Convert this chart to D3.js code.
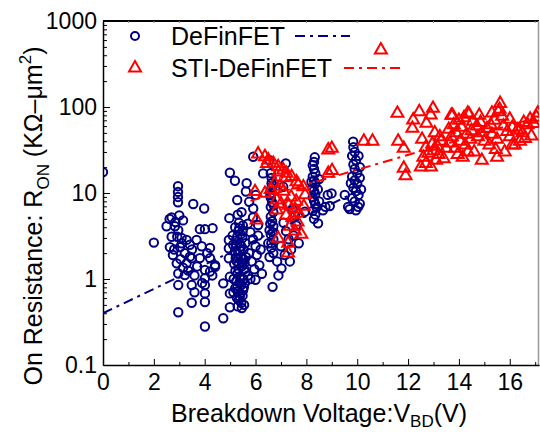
<!DOCTYPE html>
<html lang="en">
<head>
<meta charset="UTF-8">
<script src="https://d3js.org/d3.v7.min.js"></script>
<title>On Resistance vs Breakdown Voltage</title>
<style>
  body { margin: 0; background: #fff; }
  svg text { font-family: "Liberation Sans", Arial, sans-serif; fill: #000; }
</style>
</head>
<body>
<script>
  // [V_BD (V), R_ON (KOhm-um^2)]
  const deFinFET = [
    [0, 17.5], [2.0, 2.65],
    [2.95, 12.0], [2.95, 10.3], [2.95, 9.0], [2.95, 7.8],
    [2.70, 5.2], [2.62, 5.0], [2.50, 4.1], [2.83, 4.1], [2.96, 3.7], [2.70, 3.1], [2.92, 3.1],
    [3.09, 3.0], [2.63, 2.35], [3.03, 2.35], [3.29, 2.85], [3.42, 2.5], [3.22, 2.0], [2.90, 1.52],
    [3.29, 1.52], [3.42, 1.82], [2.96, 1.16], [3.22, 1.11], [3.49, 0.85], [2.96, 0.85], [2.96, 0.41],
    [3.49, 0.53], [3.55, 7.45], [3.98, 6.6], [3.81, 3.8], [4.01, 3.8], [4.31, 3.9], [3.68, 2.85],
    [3.88, 2.4], [4.21, 2.3], [3.81, 1.75], [4.21, 1.75], [4.41, 1.45], [4.01, 1.27], [4.01, 1.02],
    [4.01, 0.85], [4.01, 0.68], [4.01, 0.54], [4.01, 0.28], [4.41, 1.39], [4.21, 1.22], [3.49, 1.74],
    [3.1, 2.6], [2.8, 2.2], [3.15, 1.35], [2.75, 1.9], [3.35, 1.25], [3.6, 1.1], [3.5, 2.2],
    [3.05, 1.7], [3.7, 1.4], [4.1, 2.0], [4.3, 1.1], [3.9, 0.9], [3.6, 0.7], [2.85, 4.6],
    [3.0, 5.5], [3.15, 4.8],
    [4.99, 17.2], [5.19, 13.9], [5.28, 8.3], [4.97, 5.1], [5.62, 10.4], [5.75, 7.9], [4.73, 0.89],
    [4.73, 0.35], [4.95, 2.84], [4.95, 2.28], [4.95, 1.74], [4.99, 1.06], [4.99, 0.68], [4.99, 0.47],
    [5.2, 4.0], [5.32, 3.6], [5.41, 3.3], [5.48, 3.0], [5.24, 2.8], [5.37, 2.6], [5.44, 2.4],
    [5.53, 2.2], [5.19, 2.1], [5.31, 1.95], [5.42, 1.8], [5.5, 1.7], [5.26, 1.6], [5.34, 1.5],
    [5.46, 1.4], [5.56, 1.3], [5.21, 1.25], [5.29, 1.15], [5.39, 1.08], [5.52, 1.0], [5.25, 0.95],
    [5.36, 0.9], [5.43, 0.85], [5.54, 0.8], [5.2, 0.78], [5.31, 0.72], [5.4, 0.68], [5.49, 0.64],
    [5.27, 0.6], [5.35, 0.57], [5.44, 0.53], [5.55, 0.5], [5.3, 0.48], [5.46, 0.46], [5.14, 1.0],
    [5.16, 1.5], [5.13, 0.7], [5.6, 2.6], [5.62, 1.8], [5.6, 1.2], [5.58, 0.9], [5.1, 3.2],
    [5.12, 2.5], [5.35, 4.5], [5.5, 4.2], [5.45, 6.0], [5.3, 5.6],
    [5.28, 3.1], [5.38, 2.15], [5.47, 1.55], [5.33, 1.3], [5.41, 1.0], [5.29, 0.82], [5.51, 0.74],
    [5.38, 0.62], [5.23, 2.4], [5.49, 3.6], [5.36, 3.9], [5.57, 1.55], [5.22, 1.75],
    [5.7, 4.4], [5.8, 3.5], [5.9, 2.9], [6.0, 2.4], [6.1, 3.2], [5.75, 2.0], [5.85, 1.6],
    [5.95, 1.3], [6.05, 1.9], [6.15, 1.45], [6.2, 2.2], [6.25, 1.15], [5.7, 1.1], [5.8, 1.0],
    [6.0, 0.98], [5.91, 6.6], [6.10, 4.25], [6.30, 16.9], [5.91, 26.4], [6.01, 9.5], [5.65, 13],
    [5.9, 5.2],
    [6.63, 15], [6.63, 13], [6.63, 11.5], [6.63, 10], [6.6, 8.8], [6.65, 7.8], [6.6, 6.9],
    [6.7, 6.0], [6.6, 5.3], [6.65, 4.7], [6.7, 4.1], [6.55, 3.7], [6.6, 3.3], [6.7, 2.9],
    [6.5, 2.6], [6.62, 2.3], [6.7, 2.0], [6.55, 1.8], [6.67, 0.81], [7.02, 1.33], [6.85, 1.6],
    [6.9, 1.1], [6.6, 17], [6.55, 24], [6.68, 12.2], [6.58, 9.4], [6.72, 7.2], [6.58, 4.4],
    [6.68, 3.5], [6.62, 2.6],
    [7.09, 11.8], [7.19, 22.1], [7.1, 4.5], [7.2, 3.6], [7.3, 2.9], [7.0, 2.4], [7.15, 1.9],
    [7.4, 2.2], [7.5, 3.2], [7.6, 4.2], [7.55, 5.5], [7.45, 6.5], [7.7, 2.6], [7.35, 1.6],
    [7.25, 7.5],
    [8.33, 26], [8.3, 23], [8.25, 21], [8.3, 19], [8.35, 17], [8.25, 15.5], [8.3, 14],
    [8.35, 12.8], [8.25, 11.6], [8.3, 10.6], [8.35, 9.7], [8.25, 8.9], [8.3, 8.1], [8.35, 7.4],
    [8.4, 6.8], [8.25, 6.2], [8.35, 5.6], [8.46, 4.44], [8.3, 5.0], [7.94, 6.06], [8.5, 8.0],
    [8.45, 11], [8.2, 13.5], [8.5, 14.5],
    [8.99, 9.9], [8.92, 7.06], [8.65, 6.3], [8.84, 9.5], [8.75, 6.9],
    [9.51, 9.5], [9.64, 6.9], [10.04, 6.9], [9.84, 39.5], [9.85, 34], [9.9, 30], [9.8, 27],
    [9.95, 24], [9.85, 21.5], [9.9, 19], [10.0, 17], [9.8, 15.5], [9.9, 14], [10.0, 12.8],
    [9.85, 11.5], [9.95, 10.5], [10.05, 9.5], [9.8, 8.7], [9.9, 8.0], [10.1, 7.5], [10.15, 11],
    [10.1, 15], [10.1, 20], [9.75, 13], [10.05, 27], [9.7, 6.5], [9.95, 6.3]
  ]

  const stiDeFinFET = [
    [6.10, 28.4], [6.37, 26.4], [6.50, 24.2], [6.70, 22.1], [6.89, 20.2], [7.09, 18.5], [7.22, 16.9],
    [7.42, 15.5], [7.61, 13.5], [7.68, 12.4], [7.88, 11.8], [6.45, 22], [6.9, 17.5], [7.2, 15],
    [5.98, 10.4], [6.37, 9.9], [6.83, 8.3], [6.04, 4.86], [6.83, 6.35], [6.89, 2.97], [7.28, 2.6],
    [7.28, 2.0], [7.4, 9.0], [7.6, 8.0], [7.3, 7.2], [7.55, 6.5], [7.7, 5.8], [7.45, 5.2],
    [7.65, 4.6], [7.35, 4.1], [7.55, 3.6], [7.8, 3.3], [7.2, 5.5], [7.0, 7.5], [7.1, 10.5],
    [7.9, 7.0], [7.95, 9.5], [6.6, 11], [6.75, 13], [6.95, 12],
    [8.86, 31.6], [8.86, 16.9], [9.0, 33], [9.01, 18.2],
    [10.26, 40], [10.6, 40], [10.93, 460],
    [11.58, 84.5], [11.61, 40], [11.83, 33], [11.83, 19.4], [11.9, 15.9],
    [12.2, 70.6], [12.44, 88], [12.17, 56.5], [12.72, 64.6], [12.98, 96.6], [12.89, 80.7],
    [12.5, 20], [12.7, 22], [12.9, 20], [13.1, 24], [12.6, 26], [12.8, 29], [13.0, 31],
    [13.2, 28], [12.7, 34], [12.95, 37], [13.15, 35], [13.3, 40], [12.55, 42], [13.4, 25],
    [13.5, 33], [13.25, 45], [13.05, 50],
    [13.6, 55], [13.8, 62], [14.0, 70], [14.2, 75], [14.4, 82], [13.7, 45], [13.9, 50],
    [14.1, 58], [14.3, 48], [14.5, 53], [13.65, 38], [13.85, 33], [14.05, 40], [14.25, 36],
    [14.45, 42], [14.6, 30], [13.95, 28], [14.15, 26], [14.35, 30], [14.7, 60], [14.85, 66],
    [14.9, 50], [14.75, 45], [15.0, 40], [14.55, 68], [13.75, 80], [13.7, 80], [14.35, 85],
    [14.8, 80], [15.3, 85],
    [15.1, 56], [15.25, 62], [15.4, 70], [15.55, 88], [15.62, 110], [15.6, 94], [15.7, 78],
    [15.3, 48], [15.5, 42], [15.2, 36], [15.45, 32], [15.75, 60], [15.9, 52], [16.0, 45],
    [16.1, 58], [16.3, 54], [16.5, 50], [16.4, 40], [16.6, 43], [16.7, 62], [16.8, 72],
    [16.95, 64], [17.05, 76], [17.1, 85], [16.2, 36], [15.8, 30], [16.55, 66], [16.85, 46],
    [14.9, 24], [15.5, 26], [16.1, 36], [16.0, 72], [16.4, 54]
  ]

  // fitted trend lines (straight on the log axis), end points
  const deFinFit = [[0, 0.4], [10, 10.4]]
  const stiFit = [[5.8, 8.1], [17.15, 77]]

  const xTickValues = [0, 2, 4, 6, 8, 10, 12, 14, 16]
  const yTickValues = [0.1, 1, 10, 100, 1000]
  const yTickLabels = ['0.1', '1', '10', '100', '1000']

  const legendNames = ['DeFinFET', 'STI-DeFinFET']
  const colors = ['#000080', '#ff0000']

  let width = 540
  let height = 432
  let margin = { left: 103, right: 1, top: 21, bottom: 67 }

  let svg = d3.select('body')
    .append('svg')
    .attr('width', width)
    .attr('height', height)

  let x = d3.scaleLinear()
    .domain([0, 17.15])
    .range([margin.left, width - margin.right])

  let y = d3.scaleLog()
    .domain([0.1, 1000])
    .range([height - margin.bottom, margin.top])

  svg.append('clipPath')
    .attr('id', 'plot')
    .append('rect')
    .attr('x', margin.left)
    .attr('y', margin.top)
    .attr('width', x.range()[1] - margin.left)
    .attr('height', y.range()[0] - margin.top)

  // frame: top and right
  svg.append('line')
    .attr('x1', margin.left).attr('x2', x.range()[1])
    .attr('y1', margin.top).attr('y2', margin.top)
    .attr('stroke', '#000').attr('stroke-width', 2)
  svg.append('line')
    .attr('x1', x.range()[1] - 0.5).attr('x2', x.range()[1] - 0.5)
    .attr('y1', margin.top).attr('y2', y.range()[0])
    .attr('stroke', '#999').attr('stroke-width', 1.5)

  // small ticks along the top
  svg.append('g')
    .selectAll('line')
    .data(d3.range(1, 18))
    .enter()
    .append('line')
    .attr('x1', d => x(d)).attr('x2', d => x(d))
    .attr('y1', margin.top).attr('y2', margin.top + 2)
    .attr('stroke', '#888')

  // x axis, ticks pointing inward
  let xMinor = d3.range(0, 18)
  let xAxis = svg.append('g')
    .attr('transform', `translate(0,${y.range()[0]})`)
    .call(d3.axisBottom(x)
      .tickValues(xMinor)
      .tickSizeInner(-5)
      .tickSizeOuter(0)
      .tickPadding(8)
      .tickFormat(d => xTickValues.includes(d) ? d : ''))
  xAxis.select('.domain').attr('stroke-width', 1.5)
  xAxis.selectAll('.tick line')
    .attr('y2', d => xTickValues.includes(d) ? -6 : -3)
  xAxis.selectAll('text')
    .attr('font-size', 23)
    .attr('dy', '0.75em')

  // y axis, log with minor ticks
  let yMinor = []
  for (let dec = 0.1; dec < 1000; dec *= 10) {
    for (let m = 1; m < 10; m++) yMinor.push(+(dec * m).toPrecision(3))
  }
  yMinor.push(1000)
  let yAxis = svg.append('g')
    .attr('transform', `translate(${margin.left},0)`)
    .call(d3.axisLeft(y)
      .tickValues(yMinor)
      .tickSizeInner(-4)
      .tickSizeOuter(0)
      .tickPadding(8)
      .tickFormat(d => {
        let i = yTickValues.indexOf(d)
        return i >= 0 ? yTickLabels[i] : ''
      }))
  yAxis.select('.domain').attr('stroke-width', 1.5)
  yAxis.selectAll('.tick line')
    .attr('x2', d => yTickValues.includes(d) ? 7 : 4)
  yAxis.selectAll('text')
    .attr('font-size', 23)
    .attr('x', -6)

  svg.selectAll('.domain, .tick line').attr('stroke', '#000')

  let plot = svg.append('g').attr('clip-path', 'url(#plot)')

  // DeFinFET: hollow circles
  plot.append('g')
    .selectAll('circle')
    .data(deFinFET)
    .enter()
    .append('circle')
    .attr('cx', d => x(d[0]))
    .attr('cy', d => y(d[1]))
    .attr('r', 4.2)
    .attr('fill', 'none')
    .attr('stroke', colors[0])
    .attr('stroke-width', 2)

  // STI-DeFinFET: hollow triangles
  let tri = d3.symbol().type(d3.symbolTriangle).size(62)
  plot.append('g')
    .selectAll('path')
    .data(stiDeFinFET)
    .enter()
    .append('path')
    .attr('d', tri)
    .attr('transform', d => `translate(${x(d[0])},${y(d[1])})`)
    .attr('fill', 'none')
    .attr('stroke', colors[1])
    .attr('stroke-width', 2)

  let line = d3.line()
    .x(d => x(d[0]))
    .y(d => y(d[1]))

  let dashDot = '10,5,3,5'
  ;[deFinFit, stiFit].forEach((fit, i) => {
    plot.append('path')
      .datum(fit)
      .attr('d', line)
      .attr('fill', 'none')
      .attr('stroke', colors[i])
      .attr('stroke-width', 2)
      .attr('stroke-dasharray', dashDot)
  })

  // legend
  let legendRows = [
    { y: 36, lineFrom: 295, lineTo: 350 },
    { y: 68, lineFrom: 344, lineTo: 400 }
  ]
  legendRows.forEach((row, i) => {
    if (i === 0) {
      svg.append('circle')
        .attr('cx', 135).attr('cy', row.y).attr('r', 4)
        .attr('fill', 'none').attr('stroke', colors[0]).attr('stroke-width', 2)
    } else {
      svg.append('path')
        .attr('d', tri)
        .attr('transform', `translate(135,${row.y})`)
        .attr('fill', 'none').attr('stroke', colors[1]).attr('stroke-width', 2)
    }
    svg.append('text')
      .attr('x', 171).attr('y', row.y + 9)
      .attr('font-size', 25)
      .text(legendNames[i])
    svg.append('line')
      .attr('x1', row.lineFrom).attr('x2', row.lineTo)
      .attr('y1', row.y).attr('y2', row.y)
      .attr('stroke', colors[i]).attr('stroke-width', 2)
      .attr('stroke-dasharray', dashDot)
  })

  // axis titles
  let xTitle = svg.append('text')
    .attr('x', 171).attr('y', 422)
    .attr('font-size', 25)
  xTitle.append('tspan').text('Breakdown Voltage:V')
  xTitle.append('tspan').attr('font-size', 17).attr('dy', 5).text('BD')
  xTitle.append('tspan').attr('dy', -5).text('(V)')

  let yTitle = svg.append('text')
    .attr('transform', 'translate(42,216) rotate(-90)')
    .attr('text-anchor', 'middle')
    .attr('font-size', 25)
  yTitle.append('tspan').text('On Resistance: R')
  yTitle.append('tspan').attr('font-size', 17).attr('dy', 7).text('ON')
  yTitle.append('tspan').attr('dy', -7).text(' (KΩ–μm')
  yTitle.append('tspan').attr('font-size', 17).attr('dy', -11).text('2')
  yTitle.append('tspan').attr('dy', 11).text(')')
</script>
</body>
</html>
